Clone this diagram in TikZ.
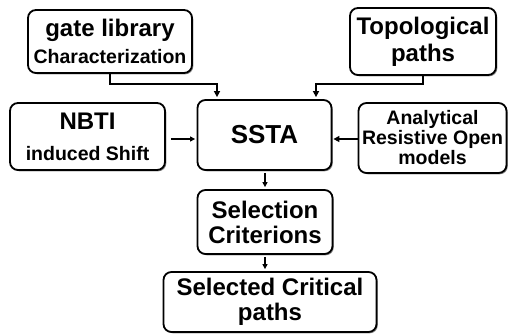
\documentclass[tikz,border=0pt]{standalone}
\usepackage{fontspec}
\setmainfont{Liberation Sans}
\usetikzlibrary{shadows,arrows.meta}

% text sizes; the second argument of \fontsize is kept equal to the node's line pitch
\newcommand{\sizeat}[2]{\fontsize{#1}{#2}\selectfont}

\tikzset{
  stage/.style={draw=black, fill=white, line width=1.8pt, rounded corners=8pt,
    inner sep=0pt, align=center,
    drop shadow={shadow xshift=1.3pt, shadow yshift=-1.3pt, opacity=0.45, fill=black}},
  pitch/.style n args={2}{font=\bfseries\sizeat{#1}{#2}},
  feed/.style={line width=2.8pt, -{Triangle[length=6pt,width=6pt]}},
  link/.style={line width=1.4pt, -{Triangle[length=5pt,width=5pt]}}
}

\begin{document}
\begin{tikzpicture}[x=1pt,y=-1pt]
  \useasboundingbox (0,0) rectangle (508,335);

  % input blocks
  \node[stage, pitch={24}{27}, minimum width=164pt, minimum height=63pt] (gate) at (110,41.5)
    {gate library\\\sizeat{19.5}{27}Characterization};
  \node[stage, pitch={24}{27}, minimum width=146pt, minimum height=67pt] (topo) at (423,41.5)
    {Topological\\paths};
  \node[stage, pitch={24}{31}, minimum width=155pt, minimum height=67pt] (nbti) at (87.5,136.5)
    {NBTI\\\sizeat{19.5}{31}induced Shift};
  \node[stage, pitch={19.5}{20}, minimum width=148pt, minimum height=70pt] (rop) at (432.5,138)
    {Analytical\\Resistive Open\\models};

  % central analysis and outputs
  \node[stage, pitch={26}{28}, minimum width=134pt, minimum height=70pt] (ssta) at (264.5,135)
    {SSTA};
  \node[stage, pitch={24}{25}, minimum width=135pt, minimum height=64pt] (sel) at (265,222)
    {Selection\\Criterions};
  \node[stage, pitch={24}{25}, minimum width=213pt, minimum height=60pt] (crit) at (270,302)
    {Selected Critical\\paths};

  % bends of the two feed lines
  \coordinate (gk) at (217,84);
  \coordinate (tk) at (316,84);
  \coordinate (mid) at (0,139);

  \draw[feed, shorten >=2pt] (gate.south) |- (gk) -- (gk |- ssta.north);
  \draw[feed, shorten >=2pt] (topo.south) |- (tk) -- (tk |- ssta.north);
  \draw[link, shorten <=5pt, shorten >=1.5pt] (nbti.east |- mid) -- (ssta.west |- mid);
  \draw[feed, line width=2.4pt, shorten >=1pt] (rop.west |- mid) -- (ssta.east |- mid);
  \draw[link, shorten <=2pt, shorten >=2pt] (ssta.south -| 265,0) -- (sel.north -| 265,0);
  \draw[link, shorten <=2pt, shorten >=2pt] (sel.south -| 265,0) -- (crit.north -| 265,0);
\end{tikzpicture}
\end{document}
